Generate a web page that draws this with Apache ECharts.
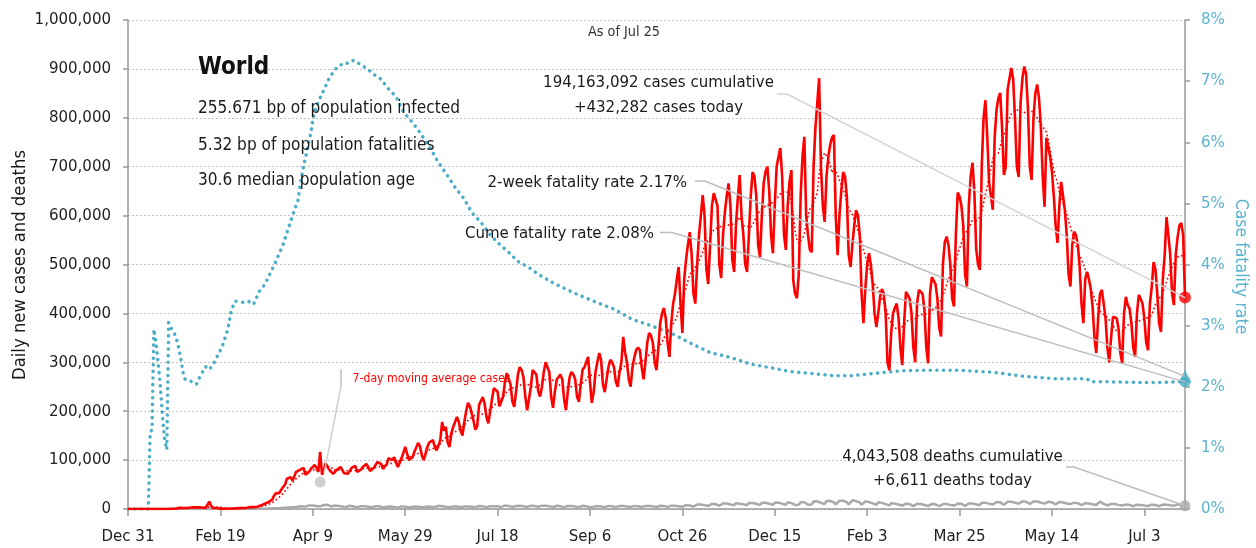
<!DOCTYPE html>
<html>
<head>
<meta charset="utf-8">
<script src="https://cdn.jsdelivr.net/npm/echarts@6/dist/echarts.min.js"></script>
<style>
html, body { margin: 0; padding: 0; background: #fff; }
#chart { width: 1256px; height: 548px; }
</style>
</head>
<body>
<div id="chart"></div>
<script>
// day 0 = Dec 31 2019, one row per week (Tue..Mon), values in thousands
const dailyCasesK = [
  0, 0, 0, 0, 0, 0, 0,
  0, 0, 0, 0, 0, 0, 0,
  0, 0, 0, 0, 0, 0, 0.1,
  0.1, 0.1, 0.3, 0.5, 0.7, 0.8, 0.8,
  2.6, 0.6, 2.1, 1.7, 2.1, 2.6, 3.1,
  3.9, 3.7, 3.2, 3.4, 2.7, 3.0, 2.5,
  2.0, 0.4, 15.1, 6.5, 2.1, 2.1, 2.0,
  1.9, 0.5, 0.6, 1.0, 1.7, 0.6, 0.8,
  0.9, 1.1, 1.2, 1.4, 1.8, 2.2, 1.9,
  2.4, 2.2, 2.8, 3.9, 4.0, 3.8, 4.0,
  4.6, 7.0, 7.5, 10.8, 10.8, 11.0, 14.0,
  16, 19, 27, 32, 31, 33, 40,
  42, 50, 62, 64, 65, 58, 60,
  76, 77, 80, 82, 84, 70, 74,
  76, 82, 86, 90, 84, 76, 117,
  70, 80, 94, 86, 80, 76, 72,
  76, 80, 84, 86, 82, 73, 70,
  72, 78, 84, 86, 88, 76, 74,
  80, 86, 88, 92, 86, 78, 76,
  84, 88, 96, 98, 92, 82, 80,
  92, 104, 106, 100, 106, 96, 86,
  94, 104, 114, 127, 114, 100, 98,
  106, 117, 126, 135, 128, 110, 100,
  112, 127, 136, 137, 141, 127, 120,
  130, 141, 178, 160, 168, 136, 127,
  155, 168, 178, 188, 178, 160, 150,
  178, 200, 217, 210, 196, 180, 162,
  170, 213, 209, 229, 215, 188, 175,
  200, 225, 247, 250, 240, 210, 207,
  230, 260, 278, 282, 255, 220, 209,
  240, 275, 290, 284, 270, 230, 202,
  225, 250, 284, 280, 275, 240, 230,
  250, 280, 300, 290, 280, 230, 207,
  240, 265, 270, 275, 265, 225, 202,
  240, 270, 280, 275, 265, 230, 219,
  255, 285, 290, 300, 311, 260, 217,
  239, 280, 300, 319, 305, 255, 239,
  265, 290, 305, 300, 290, 260, 250,
  280, 300, 352, 320, 300, 265, 250,
  290, 310, 325, 330, 325, 290, 265,
  300, 340, 360, 355, 340, 300, 284,
  330, 380, 400, 411, 390, 340, 311,
  380, 420, 440, 470, 495, 420, 360,
  470, 510, 540, 566, 520, 440, 420,
  500, 560, 600, 642, 600, 490, 460,
  540, 620, 646, 648, 620, 500, 472,
  560, 607, 640, 666, 620, 510, 485,
  580, 636, 683, 600, 560, 500, 485,
  560, 640, 689, 680, 640, 540, 515,
  600, 666, 690, 700, 650, 560, 523,
  620, 700, 720, 738, 680, 560, 530,
  620, 670, 693, 468, 440, 431, 480,
  640, 720, 761, 600, 560, 530, 525,
  700, 780, 830, 881, 700, 620, 587,
  680, 720, 745, 760, 765, 600, 519,
  600, 650, 689, 680, 640, 520, 495,
  540, 580, 611, 600, 560, 440, 380,
  450, 500, 523, 500, 460, 400, 372,
  400, 434, 450, 440, 400, 300, 284,
  360, 400, 411, 420, 390, 330, 294,
  380, 444, 440, 430, 400, 330, 300,
  420, 448, 450, 440, 407, 330, 298,
  440, 474, 470, 460, 430, 370, 353,
  500, 545, 557, 540, 500, 430, 414,
  560, 647, 639, 620, 580, 480, 455,
  620, 680, 708, 650, 532, 500, 489,
  700, 800, 836, 760, 667, 640, 612,
  760, 816, 840, 851, 780, 683, 700,
  857, 880, 902, 880, 800, 700, 679,
  830, 880, 905, 890, 820, 700, 673,
  800, 850, 868, 840, 780, 680, 618,
  759, 740, 721, 690, 640, 580, 544,
  620, 669, 640, 610, 560, 480, 455,
  540, 567, 560, 540, 495, 420, 380,
  470, 485, 470, 450, 413, 350, 319,
  390, 440, 448, 420, 390, 330, 300,
  350, 393, 397, 390, 370, 320, 298,
  400, 434, 417, 410, 380, 330, 311,
  400, 438, 430, 420, 390, 340, 325,
  420, 454, 505, 490, 440, 380, 362,
  470, 519, 597, 560, 520, 440, 417,
  520, 556, 580, 585, 560, 432.282
];

const dailyDeathsK = [
  0, 0, 0, 0, 0, 0, 0,
  0, 0, 0, 0, 0, 0, 0,
  0, 0, 0, 0, 0, 0, 0,
  0, 0, 0, 0, 0, 0, 0,
  0.03, 0.03, 0.04, 0.05, 0.05, 0.06, 0.06,
  0.07, 0.07, 0.07, 0.09, 0.09, 0.1, 0.1,
  0.1, 0.1, 0.25, 0.14, 0.14, 0.1, 0.1,
  0.1, 0.12, 0.1, 0.1, 0.1, 0.1, 0.15,
  0.08, 0.06, 0.05, 0.06, 0.06, 0.06, 0.07,
  0.08, 0.1, 0.1, 0.1, 0.1, 0.1, 0.2,
  0.3, 0.3, 0.4, 0.4, 0.4, 0.5, 0.8,
  0.9, 1.0, 1.3, 1.5, 1.7, 1.7, 1.9,
  2.4, 2.5, 2.8, 3.6, 3.6, 3.4, 3.4,
  4.5, 4.9, 5.0, 5.5, 5.8, 4.8, 5.1,
  7.3, 6.3, 7.3, 7.4, 6.2, 5.6, 5.4,
  7.5, 8.2, 6.9, 8.5, 6.4, 5.2, 4.8,
  7.0, 7.4, 6.2, 6.3, 5.3, 4.1, 3.8,
  6.3, 6.7, 5.7, 5.3, 4.9, 3.8, 3.7,
  5.7, 6.3, 5.6, 5.3, 4.6, 3.6, 3.4,
  4.8, 5.5, 5.3, 5.4, 4.8, 3.2, 3.3,
  4.5, 4.9, 5.0, 5.2, 4.3, 3.3, 2.8,
  3.9, 5.3, 5.0, 4.9, 4.2, 3.1, 3.2,
  4.6, 5.4, 5.1, 4.4, 4.3, 3.1, 3.4,
  4.8, 5.1, 5.2, 4.4, 4.2, 3.6, 3.5,
  6.6, 5.3, 5.6, 6.0, 4.4, 3.5, 3.6,
  5.2, 5.2, 6.3, 5.0, 4.7, 3.5, 3.4,
  4.9, 5.7, 5.2, 5.0, 4.6, 3.5, 3.8,
  5.8, 6.2, 5.6, 5.4, 5.1, 3.8, 3.9,
  5.5, 6.9, 5.7, 6.0, 5.6, 4.3, 4.3,
  5.8, 7.0, 6.4, 6.3, 5.7, 4.2, 4.1,
  6.2, 6.7, 6.4, 6.1, 5.8, 4.3, 4.2,
  7.0, 6.8, 6.7, 6.1, 5.7, 4.5, 4.6,
  6.8, 6.8, 6.5, 5.9, 5.5, 4.3, 3.9,
  6.2, 6.7, 6.1, 5.7, 5.4, 3.9, 4.1,
  6.1, 6.6, 5.9, 5.7, 5.2, 3.9, 3.8,
  6.2, 6.5, 5.8, 5.6, 5.3, 3.8, 3.7,
  4.8, 6.3, 6.1, 5.7, 5.2, 3.9, 3.8,
  5.6, 6.4, 5.8, 5.7, 5.3, 3.8, 3.9,
  6.2, 6.5, 6.0, 5.6, 5.2, 3.9, 4.0,
  5.8, 6.3, 5.9, 5.6, 5.4, 4.0, 3.8,
  6.0, 6.4, 6.2, 6.0, 5.4, 3.9, 4.1,
  6.4, 6.6, 6.3, 6.3, 5.5, 4.2, 4.4,
  6.8, 7.0, 6.7, 6.6, 5.8, 4.5, 4.8,
  7.6, 7.8, 7.7, 7.2, 6.4, 5.0, 5.4,
  9.2, 9.3, 9.2, 8.9, 7.7, 5.9, 6.5,
  10.3, 10.5, 10.4, 9.8, 8.6, 6.6, 7.0,
  11.0, 11.4, 11.2, 10.9, 9.3, 7.5, 7.6,
  11.9, 12.2, 10.6, 10.8, 9.6, 7.4, 7.8,
  12.5, 12.8, 12.4, 12.5, 10.6, 7.6, 8.3,
  12.6, 13.3, 12.9, 12.7, 10.9, 7.9, 8.5,
  12.8, 13.6, 13.1, 13.0, 11.0, 8.0, 8.5,
  13.7, 13.1, 12.0, 8.5, 8.4, 7.7, 8.8,
  13.8, 14.8, 13.7, 10.0, 8.9, 7.8, 9.4,
  15.4, 16.2, 15.6, 15.1, 12.8, 8.8, 10.1,
  16.4, 17.1, 16.4, 15.8, 13.6, 9.2, 10.4,
  17.0, 17.6, 17.1, 15.9, 13.8, 9.6, 10.6,
  17.7, 17.3, 16.3, 15.3, 12.9, 8.7, 9.5,
  15.6, 15.2, 14.2, 13.6, 11.5, 7.6, 8.3,
  13.6, 13.9, 12.5, 11.9, 10.0, 6.8, 7.4,
  11.7, 12.1, 11.0, 10.6, 9.1, 6.1, 7.0,
  10.8, 11.1, 10.5, 9.9, 8.6, 5.8, 6.4,
  10.6, 10.9, 10.3, 9.8, 8.2, 5.6, 6.1,
  10.1, 10.4, 9.8, 9.5, 8.2, 5.6, 6.4,
  10.0, 10.5, 10.0, 9.8, 8.4, 6.0, 7.1,
  10.6, 11.0, 10.8, 10.6, 9.2, 6.4, 7.3,
  11.2, 11.9, 11.5, 11.0, 9.2, 6.5, 8.0,
  12.7, 13.5, 13.0, 12.6, 10.9, 7.9, 9.2,
  13.2, 14.2, 13.8, 13.6, 12.0, 8.6, 10.0,
  14.6, 15.4, 15.0, 14.6, 12.8, 9.6, 11.1,
  15.1, 15.6, 15.3, 14.8, 13.1, 10.2, 11.6,
  15.3, 15.4, 15.2, 14.5, 13.0, 10.0, 11.2,
  15.0, 14.6, 14.2, 13.6, 12.0, 9.5, 10.9,
  14.3, 14.0, 13.5, 12.8, 11.3, 8.8, 10.1,
  13.0, 12.9, 12.4, 11.8, 10.3, 8.1, 9.0,
  11.8, 11.9, 11.4, 10.9, 9.6, 7.5, 8.2,
  10.9, 15.2, 11.3, 10.5, 9.2, 7.2, 7.8,
  10.3, 10.4, 10.1, 9.6, 8.4, 6.5, 7.1,
  8.8, 9.0, 8.6, 8.3, 7.3, 5.7, 6.4,
  8.7, 8.8, 8.4, 8.0, 7.2, 5.6, 6.1,
  8.6, 8.9, 8.5, 8.3, 7.4, 5.7, 6.6,
  9.0, 9.2, 8.8, 8.6, 7.6, 5.9, 6.5,
  8.9, 9.4, 9.1, 8.8, 7.8, 6.611
];

// cumulative case fatality rate, [day, %]
const cfrPoints = [
  [0, 0], [6, 0], [11, 0], [12, 1.25], [13, 1.3], [14, 2.94], [15, 2.75], [16, 2.48],
  [17, 2.2], [18, 1.8], [19, 1.4], [20, 1.1], [21, 0.97], [22, 3.05], [23, 2.98],
  [24, 2.92], [25, 2.88], [26, 2.8], [27, 2.7], [28, 2.55], [29, 2.38], [30, 2.2],
  [31, 2.12], [34, 2.09], [37, 2.04], [39, 2.17], [42, 2.33], [44, 2.28], [46, 2.36], [48, 2.48],
  [51, 2.66], [54, 2.94], [56, 3.26], [58, 3.4], [62, 3.38], [65, 3.4], [68, 3.35],
  [71, 3.56], [74, 3.67], [78, 3.92], [80, 4.05], [84, 4.33], [88, 4.71], [92, 5.05],
  [93, 5.28], [95, 5.61], [97, 5.88], [99, 6.16], [100, 6.37], [102, 6.59], [104, 6.73],
  [107, 6.92], [109, 7.06], [113, 7.22], [117, 7.3], [119, 7.29], [122, 7.34], [126, 7.27],
  [130, 7.19], [133, 7.11], [137, 7.03], [141, 6.87], [145, 6.75], [149, 6.5], [154, 6.32],
  [158, 6.16], [164, 5.88], [168, 5.67], [173, 5.45], [177, 5.26], [182, 5.07], [186, 4.85],
  [191, 4.69], [195, 4.52], [200, 4.36], [206, 4.2], [211, 4.05], [217, 3.95], [222, 3.84],
  [230, 3.7], [241, 3.54], [252, 3.4], [263, 3.27], [273, 3.1], [284, 2.99], [295, 2.86],
  [304, 2.72], [315, 2.56], [326, 2.48], [337, 2.37], [348, 2.31], [358, 2.25], [369, 2.22],
  [382, 2.18], [391, 2.18], [398, 2.2], [411, 2.24], [418, 2.26], [430, 2.27], [449, 2.27],
  [467, 2.24], [485, 2.17], [503, 2.13], [519, 2.13], [521, 2.08], [530, 2.08], [548, 2.07],
  [560, 2.07], [566, 2.08], [572, 2.08]
];

const twoWeekRate = 2.17;
const maAnchor = [104, 55000];
const monthNames = ['Jan', 'Feb', 'Mar', 'Apr', 'May', 'Jun', 'Jul', 'Aug', 'Sep', 'Oct', 'Nov', 'Dec'];

const TEAL = '#4aaec8';
const TEAL_TEXT = '#5ab4cf';

// look for a narrow face among the installed ones
function pickFont () {
  const c = document.createElement('canvas').getContext('2d');
  const sample = '255.671 bp of population infected';
  const measure = f => { c.font = '10px serif'; c.font = f; return c.font === '10px serif' ? -1 : c.measureText(sample).width; };
  const mono = measure('100px monospace');
  const tries = [
    ['', "'Liberation Sans Narrow'"],
    ['', "'Arial Narrow'"],
    ['', "'Noto Sans Condensed'"],
    ['condensed', "'Noto Sans'"],
    ['', "'Noto Sans SemiCondensed'"],
    ['semi-condensed', "'Noto Sans'"],
    ['condensed', "'DejaVu Sans'"],
    ['', "'DejaVu Sans Condensed'"]
  ];
  for (const [stretch, fam] of tries) {
    if (stretch) {
      const plain = measure('100px ' + fam);
      const w = measure(stretch + ' 100px ' + fam);
      if (w > 0 && w < plain * 0.97) return { stretch, family: fam, w100: w };
    } else {
      const w = measure('100px ' + fam + ', monospace');
      if (w > 0 && Math.abs(w - mono) > 1) return { stretch: '', family: fam, w100: w };
    }
  }
  return { stretch: '', family: "'Liberation Sans'", w100: measure("100px 'Liberation Sans'") };
}
const picked = pickFont();
const FAMILY = picked.family + ', sans-serif';
const STRETCH = picked.stretch;
// reference line "255.671 bp of population infected" is about 258px wide at nominal 21px
const K = Math.max(0.8, Math.min(1.12, 262 / (picked.w100 * 0.21)));
const fs = n => Math.round(n * K * 10) / 10;

const cases = dailyCasesK.map((v, i) => [i, Math.round(v * 1000)]);
const deaths = dailyDeathsK.map((v, i) => [i, Math.round(v * 1000)]);
const avg7 = [];
for (let i = 6; i < cases.length; i++) {
  let s = 0;
  for (let j = i - 6; j <= i; j++) s += cases[j][1];
  avg7.push([i, s / 7]);
}
const lastDay = cases.length - 1;
const lastCase = cases[lastDay];
const lastDeath = deaths[lastDay];
const lastCfr = cfrPoints[cfrPoints.length - 1];

function dayLabel (d) {
  const dt = new Date(2019, 11, 31 + d);
  return monthNames[dt.getMonth()] + ' ' + dt.getDate();
}

const labelFont = (size, color) => ({
  fontFamily: FAMILY,
  fontStyle: STRETCH || 'normal',
  fontSize: fs(size),
  color: color
});

const chart = echarts.init(document.getElementById('chart'));
chart.setOption({
  animation: false,
  grid: { left: 128, right: 71, top: 20, bottom: 39 },
  xAxis: {
    type: 'value',
    min: 0,
    max: lastDay,
    interval: 50,
    axisLine: { lineStyle: { color: '#999', width: 1.5 } },
    axisTick: { length: 7, lineStyle: { color: '#999', width: 1.5 } },
    axisLabel: Object.assign({ formatter: dayLabel, showMaxLabel: false, margin: 19 }, labelFont(20.5, '#222')),
    splitLine: { show: false }
  },
  yAxis: [{
    type: 'value',
    min: 0,
    max: 1000000,
    interval: 100000,
    axisLine: { show: true, lineStyle: { color: '#999', width: 1.5 } },
    axisTick: { show: true, length: 5, lineStyle: { color: '#999', width: 1.5 } },
    axisLabel: Object.assign({ formatter: v => v.toLocaleString('en-US'), margin: 17 }, labelFont(20.5, '#222')),
    splitLine: { lineStyle: { color: '#c2c2c2', width: 1, type: [2, 2] } }
  }, {
    type: 'value',
    min: 0,
    max: 8,
    interval: 1,
    axisLine: { show: true, lineStyle: { color: '#999', width: 1.5 } },
    axisTick: { show: true, length: 5, lineStyle: { color: '#999', width: 1.5 } },
    axisLabel: Object.assign({ formatter: '{value}%', margin: 16 }, labelFont(20.5, TEAL_TEXT)),
    splitLine: { show: false }
  }],
  series: [
    {
      name: 'Cume fatality rate',
      type: 'line',
      yAxisIndex: 1,
      data: cfrPoints,
      showSymbol: false,
      z: 2,
      lineStyle: { color: TEAL, width: 3.5, type: [0.1, 6.5], cap: 'round' }
    },
    {
      name: 'Deaths',
      type: 'line',
      data: deaths,
      showSymbol: false,
      z: 3,
      lineStyle: { color: '#a9a9a9', width: 2.5 }
    },
    {
      name: '7-day moving average cases',
      type: 'line',
      data: avg7,
      showSymbol: false,
      z: 4,
      lineStyle: { color: '#ff0000', width: 1.8, type: [0.1, 4], cap: 'round' }
    },
    {
      name: 'Cases',
      type: 'line',
      data: cases,
      showSymbol: false,
      z: 5,
      lineStyle: { color: '#ff0000', width: 2.6 }
    },
    {
      type: 'scatter',
      z: 6,
      data: [
        { value: lastCase, symbolSize: 12, itemStyle: { color: '#ff0000' } },
        { value: lastDeath, symbolSize: 11, itemStyle: { color: '#aaaaaa' } },
        { value: maAnchor, symbolSize: 11, itemStyle: { color: '#c4c4c4' } }
      ]
    },
    {
      type: 'scatter',
      yAxisIndex: 1,
      z: 6,
      data: [
        { value: [lastDay, twoWeekRate], symbol: 'triangle', symbolSize: 13, itemStyle: { color: TEAL } },
        { value: lastCfr, symbolSize: 11, itemStyle: { color: TEAL } }
      ]
    }
  ]
});

// annotations: text positions are layout, line ends come from the axes
const toPx = (pt, yi) => chart.convertToPixel({ xAxisIndex: 0, yAxisIndex: yi }, pt);
const pCase = toPx(lastCase, 0);
const pDeath = toPx(lastDeath, 0);
const pTwo = toPx([lastDay, twoWeekRate], 1);
const pCfr = toPx(lastCfr, 1);
const pMa = toPx(maAnchor, 0);

function txt (x, y, text, size, opts, weight) {
  return {
    type: 'text', x: x, y: y, z: 100,
    style: Object.assign({
      text: text,
      font: [STRETCH, weight || '', fs(size) + 'px', FAMILY].join(' ').trim(),
      fill: '#1a1a1a', align: 'left', verticalAlign: 'middle'
    }, opts || {})
  };
}
function leader (pts, color) {
  return { type: 'polyline', z: 90, shape: { points: pts }, style: { stroke: color, lineWidth: 1.5, fill: null } };
}

chart.setOption({
  graphic: [
    txt(198, 68, 'World', 29.5, { fill: '#111' }, 'bold'),
    txt(198, 109, '255.671 bp of population infected', 21),
    txt(198, 145.5, '5.32 bp of population fatalities', 21),
    txt(198, 180.5, '30.6 median population age', 21),
    txt(624, 32, 'As of Jul 25', 17.5, { align: 'center', fill: '#333' }),
    txt(658.5, 83, '194,163,092 cases cumulative', 20.5, { align: 'center' }),
    txt(658.5, 108, '+432,282 cases today', 20.5, { align: 'center' }),
    txt(687, 182.5, '2-week fatality rate 2.17%', 20.5, { align: 'right' }),
    txt(654, 233.5, 'Cume fatality rate 2.08%', 20.5, { align: 'right' }),
    txt(952.5, 457, '4,043,508 deaths cumulative', 20.5, { align: 'center' }),
    txt(952.5, 481, '+6,611 deaths today', 20.5, { align: 'center' }),
    txt(352.5, 378.5, '7-day moving average cases', 15, { fill: '#ff0000' }),
    Object.assign(txt(20, 265, 'Daily new cases and deaths', 22.5, { align: 'center' }), { rotation: Math.PI / 2 }),
    Object.assign(txt(1241, 266.5, 'Case fatality rate', 21.5, { align: 'center', fill: TEAL_TEXT }), { rotation: -Math.PI / 2 }),
    leader([[777, 94], [787, 94], pCase], '#d4d4d4'),
    leader([[695, 181], [705, 181], pTwo], '#bdbdbd'),
    leader([[660, 232.5], [672, 232.5], pCfr], '#bdbdbd'),
    leader([[1066, 467], [1074, 467], pDeath], '#bdbdbd'),
    { type: 'line', z: 90, shape: { x1: 341, y1: 369, x2: 341, y2: 386 }, style: { stroke: '#cfcfcf', lineWidth: 2 } },
    leader([[341, 386], [pMa[0] + 4, pMa[1] - 9]], '#cfcfcf')
  ]
});
</script>
</body>
</html>
